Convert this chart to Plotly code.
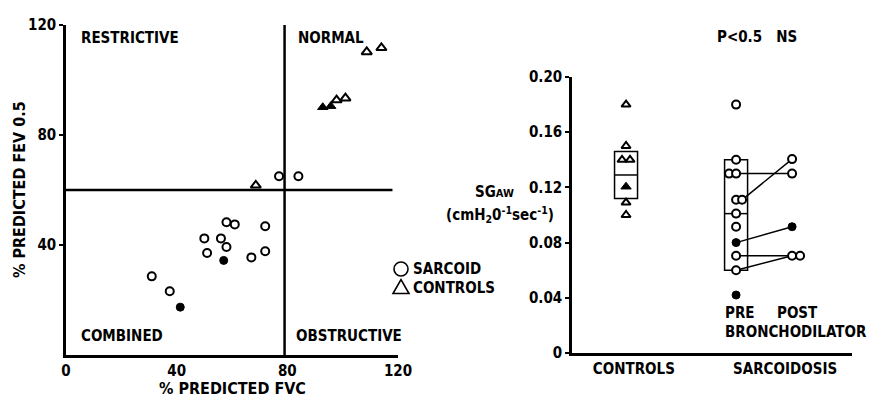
import plotly.graph_objects as go

# ---------------- data: left panel (% predicted FVC vs % predicted FEV0.5) ----------------
sarc_open_fvc = [77, 84, 58, 61, 72, 50, 56, 58, 51, 72, 67, 31, 37.5]
sarc_open_fev = [65, 65, 48.3, 47.5, 46.8, 42.4, 42.4, 39.3, 37.1, 37.7, 35.5, 28.6, 23.2]
sarc_filled_fvc = [57, 41.3]
sarc_filled_fev = [34.4, 17.4]
ctrl_open_fvc = [108.7, 114, 97.8, 101, 68.6]
ctrl_open_fev = [110.2, 111.7, 92.7, 93.4, 61.7]
ctrl_filled_fvc = [92.8, 95.7]
ctrl_filled_fev = [90.1, 90.5]
fvc_cut = 79
fev_cut = 60
left_x_ticks = [0, 40, 80, 120]
left_y_ticks = [40, 80, 120]
quadrant_labels = ["RESTRICTIVE", "NORMAL", "COMBINED", "OBSTRUCTIVE"]
legend_names = ["SARCOID", "CONTROLS"]

# ---------------- data: right panel (SGaw) ----------------
ctrl_sgaw_open = [0.18, 0.15, 0.14, 0.14, 0.109, 0.10]
ctrl_sgaw_filled = [0.1205]
ctrl_box = [0.112, 0.129, 0.146]          # low, mid, high
sarc_pre_open = [0.18, 0.14, 0.13, 0.13, 0.111, 0.111, 0.101, 0.0915, 0.0705, 0.060]
sarc_pre_filled = [0.080, 0.042]
sarc_post_open = [0.1405, 0.13, 0.0705, 0.0705]
sarc_post_filled = [0.0915]
sarc_box = [0.060, 0.101, 0.140]
pair_pre = [0.111, 0.13, 0.080, 0.0705, 0.060]
pair_post = [0.1405, 0.13, 0.0915, 0.0705, 0.0705]
right_y_ticks = [0, 0.04, 0.08, 0.12, 0.16, 0.20]
right_y_labels = ["0", "0.04", "0.08", "0.12", "0.16", "0.20"]
groups = ["CONTROLS", "SARCOIDOSIS"]

# ---------------- layout constants (positions / styling) ----------------
X_CTRL, X_PRE, X_POST = 0.193, 0.586, 0.786
GROUP_LABEL_X = [0.221, 0.761]
PX = 1 / 280.0
ctrl_open_off = [0, 0, -4 * PX, 4 * PX, 0, 0]
pre_open_off = [0, 0, -7 * PX, 0, 0, 6 * PX, 0, 0, 0, 0]
post_open_off = [0, 0, 0, 8 * PX]
pair_pre_off = [6 * PX, 0, 0, 0, 0]
BOX_HALF = 11.5 * PX

FONT = "DejaVu Sans Condensed, DejaVu Sans, sans-serif"
BLK = "black"
FS = 15
W, H = 872.0, 398.0

fig = go.Figure()


def open_marker(sym, size):
    return dict(symbol=sym, size=size, color="white", line=dict(color=BLK, width=2))


def filled_marker(sym, size):
    return dict(symbol=sym, size=size, color=BLK, line=dict(color=BLK, width=1))


# ---- left panel
fig.add_trace(go.Scatter(x=sarc_open_fvc, y=sarc_open_fev, mode="markers",
                         marker=open_marker("circle", 8), xaxis="x", yaxis="y"))
fig.add_trace(go.Scatter(x=sarc_filled_fvc, y=sarc_filled_fev, mode="markers",
                         marker=filled_marker("circle", 8), xaxis="x", yaxis="y"))
fig.add_trace(go.Scatter(x=ctrl_open_fvc, y=ctrl_open_fev, mode="markers",
                         marker=open_marker("triangle-up", 9), xaxis="x", yaxis="y"))
fig.add_trace(go.Scatter(x=ctrl_filled_fvc, y=ctrl_filled_fev, mode="markers",
                         marker=filled_marker("triangle-up", 9), xaxis="x", yaxis="y"))

# ---- right panel: connecting lines first
for i in range(len(pair_pre)):
    fig.add_trace(go.Scatter(x=[X_PRE + pair_pre_off[i], X_POST], y=[pair_pre[i], pair_post[i]],
                             mode="lines", line=dict(color=BLK, width=1.5),
                             xaxis="x2", yaxis="y2", hoverinfo="skip"))

fig.add_trace(go.Scatter(x=[X_CTRL + o for o in ctrl_open_off], y=ctrl_sgaw_open, mode="markers",
                         marker=open_marker("triangle-up", 8), xaxis="x2", yaxis="y2"))
fig.add_trace(go.Scatter(x=[X_CTRL] * len(ctrl_sgaw_filled), y=ctrl_sgaw_filled, mode="markers",
                         marker=filled_marker("triangle-up", 9), xaxis="x2", yaxis="y2"))
fig.add_trace(go.Scatter(x=[X_PRE + o for o in pre_open_off], y=sarc_pre_open, mode="markers",
                         marker=open_marker("circle", 8), xaxis="x2", yaxis="y2"))
fig.add_trace(go.Scatter(x=[X_PRE] * len(sarc_pre_filled), y=sarc_pre_filled, mode="markers",
                         marker=filled_marker("circle", 8), xaxis="x2", yaxis="y2"))
fig.add_trace(go.Scatter(x=[X_POST + o for o in post_open_off], y=sarc_post_open, mode="markers",
                         marker=open_marker("circle", 8), xaxis="x2", yaxis="y2"))
fig.add_trace(go.Scatter(x=[X_POST] * len(sarc_post_filled), y=sarc_post_filled, mode="markers",
                         marker=filled_marker("circle", 8), xaxis="x2", yaxis="y2"))

shapes = []
shapes.append(dict(type="line", xref="x", yref="y", x0=0, x1=118, y0=fev_cut, y1=fev_cut,
                   line=dict(color=BLK, width=2.5), layer="below"))
shapes.append(dict(type="line", xref="x", yref="y", x0=fvc_cut, x1=fvc_cut, y0=0, y1=121,
                   line=dict(color=BLK, width=2.5), layer="below"))
for xc, (lo, mid, hi) in [(X_CTRL, ctrl_box), (X_PRE, sarc_box)]:
    shapes.append(dict(type="rect", xref="x2", yref="y2", x0=xc - BOX_HALF, x1=xc + BOX_HALF,
                       y0=lo, y1=hi, line=dict(color=BLK, width=1.5), layer="below"))
    shapes.append(dict(type="line", xref="x2", yref="y2", x0=xc - BOX_HALF, x1=xc + BOX_HALF,
                       y0=mid, y1=mid, line=dict(color=BLK, width=1.5), layer="below"))

# legend key symbols (drawn as shapes in paper coordinates)
cx, cy, r = 401, 269, 7
shapes.append(dict(type="circle", xref="paper", yref="paper",
                   x0=(cx - r) / W, x1=(cx + r) / W, y0=1 - (cy + r) / H, y1=1 - (cy - r) / H,
                   line=dict(color=BLK, width=1.6)))
tx, ty = 401, 287
pts = [(tx - 8, ty + 6.5), (tx + 8, ty + 6.5), (tx, ty - 7.5)]
path = "M " + " L ".join(f"{px / W:.5f},{1 - py / H:.5f}" for px, py in pts) + " Z"
shapes.append(dict(type="path", xref="paper", yref="paper", path=path,
                   line=dict(color=BLK, width=1.6)))


def ann(text, x, y, size=FS, xanchor="left", yanchor="middle", angle=0):
    return dict(text=text, x=x / W, y=1 - y / H, xref="paper", yref="paper",
                xanchor=xanchor, yanchor=yanchor, showarrow=False, textangle=angle,
                font=dict(family=FONT, size=size, color=BLK, weight="bold"))


annotations = [
    ann(quadrant_labels[0], 79, 38),
    ann(quadrant_labels[1], 296, 38),
    ann(quadrant_labels[2], 79, 336),
    ann(quadrant_labels[3], 294, 336),
    ann("% PREDICTED FVC", 232, 388, size=16, xanchor="center"),
    ann("% PREDICTED FEV 0.5", 20, 190, size=16, xanchor="center", angle=-90),
    ann(legend_names[0], 411, 269),
    ann(legend_names[1], 411, 288),
    ann("P<0.5   NS", 757, 37, xanchor="center"),
    ann("SG<span style='font-size:11px'>AW</span>", 494, 192, xanchor="center"),
    ann("(cmH<sub>2</sub>0<sup>-1</sup>sec<sup>-1</sup>)", 500, 214, xanchor="center"),
    ann("PRE", 723, 313),
    ann("POST", 775, 313),
    ann("BRONCHODILATOR", 723, 332),
]

tickfont = dict(family=FONT, size=FS, color=BLK, weight="bold")
axis_common = dict(showline=True, linecolor=BLK, linewidth=2.5, showgrid=False, zeroline=False,
                   tickfont=tickfont, fixedrange=True, automargin=False)

fig.update_layout(
    width=872, height=398,
    margin=dict(l=0, r=0, t=0, b=0, autoexpand=False),
    paper_bgcolor="white", plot_bgcolor="white",
    showlegend=False,
    xaxis=dict(domain=[66 / W, 398 / W], range=[0, 120], tickvals=left_x_ticks,
               ticks="", anchor="y", **axis_common),
    yaxis=dict(domain=[1 - 355 / H, 1 - 25 / H], range=[0, 120], tickvals=left_y_ticks,
               ticks="outside", ticklen=4, tickwidth=2, tickcolor=BLK, anchor="x", **axis_common),
    xaxis2=dict(domain=[572 / W, 852 / W], range=[0, 1], tickvals=GROUP_LABEL_X,
                ticktext=groups, ticks="", anchor="y2", **axis_common),
    yaxis2=dict(domain=[1 - 353 / H, 1 - 77 / H], range=[0, 0.2], tickvals=right_y_ticks,
                ticktext=right_y_labels, ticks="outside", ticklen=4, tickwidth=2, tickcolor=BLK,
                anchor="x2", **axis_common),
    shapes=shapes,
    annotations=annotations,
)

fig.write_html("out.html")
